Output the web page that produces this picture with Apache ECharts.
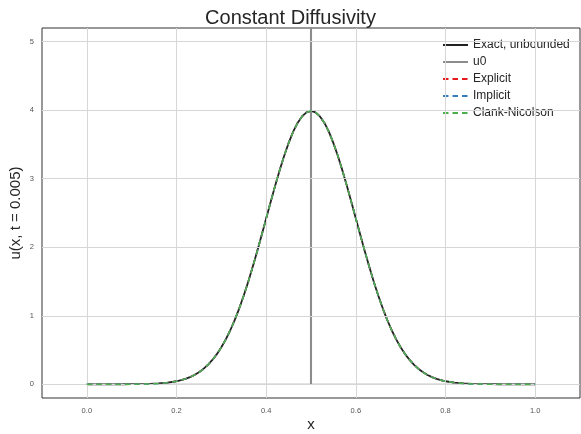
<!DOCTYPE html>
<html>
<head>
<meta charset="utf-8">
<script src="https://cdn.jsdelivr.net/npm/echarts@6/dist/echarts.min.js"></script>
<style>html,body{margin:0;padding:0;background:#fff}#c{width:581px;height:434px}</style>
</head>
<body>
<div id="c"></div>
<script>
// x grid of the solution
var xs = [0.00,0.02,0.04,0.06,0.08,0.10,0.12,0.14,0.16,0.18,
  0.20,0.21,0.22,0.23,0.24,0.25,0.26,0.27,0.28,0.29,
  0.30,0.31,0.32,0.33,0.34,0.35,0.36,0.37,0.38,0.39,
  0.40,0.41,0.42,0.43,0.44,0.45,0.46,0.47,0.48,0.49,
  0.50,0.51,0.52,0.53,0.54,0.55,0.56,0.57,0.58,0.59,
  0.60,0.61,0.62,0.63,0.64,0.65,0.66,0.67,0.68,0.69,
  0.70,0.71,0.72,0.73,0.74,0.75,0.76,0.77,0.78,0.79,
  0.80,0.82,0.84,0.86,0.88,0.90,0.92,0.94,0.96,0.98,1.00];
// exact solution, unbounded domain
var exact = [0.0000,0.0000,0.0001,0.0003,0.0006,0.0013,0.0029,0.0061,0.0123,0.0238,
  0.0443,0.0595,0.0792,0.104,0.136,0.175,0.224,0.283,0.355,0.440,
  0.540,0.656,0.789,0.940,1.109,1.295,1.497,1.714,1.942,2.178,
  2.420,2.661,2.897,3.122,3.332,3.520,3.683,3.814,3.910,3.969,
  3.989,3.969,3.910,3.814,3.683,3.520,3.332,3.122,2.897,2.661,
  2.420,2.178,1.942,1.714,1.497,1.295,1.109,0.940,0.789,0.656,
  0.540,0.440,0.355,0.283,0.224,0.175,0.136,0.104,0.0792,0.0595,
  0.0443,0.0238,0.0123,0.0061,0.0029,0.0013,0.0006,0.0003,0.0001,0.0000,0.0000];
// initial condition: discrete delta at x = 0.5 on a fine grid
var x0 = [0.0, 0.499, 0.5, 0.501, 1.0];
var u0 = [0, 0, 1000, 0, 0];
// numerical solutions (indistinguishable from exact at this scale)
var explicitU = [0.0000,0.0000,0.0001,0.0003,0.0006,0.0013,0.0029,0.0061,0.0123,0.0238,
  0.0443,0.0595,0.0792,0.104,0.136,0.175,0.224,0.283,0.355,0.440,
  0.540,0.656,0.789,0.940,1.109,1.295,1.497,1.714,1.942,2.178,
  2.420,2.661,2.897,3.122,3.332,3.520,3.683,3.814,3.910,3.969,
  3.989,3.969,3.910,3.814,3.683,3.520,3.332,3.122,2.897,2.661,
  2.420,2.178,1.942,1.714,1.497,1.295,1.109,0.940,0.789,0.656,
  0.540,0.440,0.355,0.283,0.224,0.175,0.136,0.104,0.0792,0.0595,
  0.0443,0.0238,0.0123,0.0061,0.0029,0.0013,0.0006,0.0003,0.0001,0.0000,0.0000];
var implicitU = explicitU.slice();
var crankU = explicitU.slice();

var xTicks = [0.0,0.2,0.4,0.6,0.8,1.0];
var xTickLabels = ['0.0','0.2','0.4','0.6','0.8','1.0'];
var yTicks = [0,1,2,3,4,5];
var yTickLabels = ['0','1','2','3','4','5'];

function pairs(x, y){ var r=[]; for(var i=0;i<x.length;i++) r.push([x[i], y[i]]); return r; }

var FONT = '"Liberation Sans", Arial, sans-serif';
var chart = echarts.init(document.getElementById('c'), null, {renderer:'canvas'});

function gridLines(){
  var d = [];
  xTicks.forEach(function(v){ d.push({xAxis:v}); });
  yTicks.forEach(function(v){ d.push({yAxis:v}); });
  return d;
}

var dashed = [5.5, 4];
chart.setOption({
  animation:false,
  backgroundColor:'#ffffff',
  title:{text:'Constant Diffusivity', left:'center', top:8, padding:0,
    textStyle:{fontFamily:FONT, fontSize:20, fontWeight:'normal', color:'#262626'}},
  grid:{left:42, right:1, top:28, bottom:36, show:true, borderColor:'#333', borderWidth:1,
    backgroundColor:'transparent', containLabel:false, outerBoundsMode:'none'},
  legend:{orient:'vertical', left:437, top:34, itemWidth:25, itemHeight:12, itemGap:5,
    itemStyle:{opacity:0},
    textStyle:{fontFamily:FONT, fontSize:12, color:'#262626', padding:[0,0,0,0]},
    data:['Exact, unbounded','u0','Explicit','Implicit','Clank-Nicolson']},
  xAxis:[{type:'value', min:-0.1, max:1.1, position:'bottom',
      name:'x', nameLocation:'middle', nameGap:19, nameMoveOverlap:false,
      nameTextStyle:{fontFamily:FONT, fontSize:15, color:'#262626'},
      axisLine:{show:false},
      axisTick:{show:true, customValues:xTicks, length:4, lineStyle:{color:'#333'}},
      axisLabel:{customValues:xTicks, fontFamily:FONT, fontSize:7.5, color:'#555', margin:9,
        formatter:function(v){ var i=xTicks.indexOf(v); return i>=0?xTickLabels[i]:v.toFixed(1); }},
      splitLine:{show:false}},
    {type:'value', min:-0.1, max:1.1, position:'top',
      axisLine:{show:false},
      axisTick:{show:true, customValues:xTicks, length:4, lineStyle:{color:'#333'}},
      axisLabel:{show:false, customValues:xTicks}, splitLine:{show:false}}],
  yAxis:[{type:'value', min:-0.2, max:5.2, position:'left',
      name:'u(x, t = 0.005)', nameLocation:'middle', nameGap:19, nameRotate:90, nameMoveOverlap:false,
      nameTextStyle:{fontFamily:FONT, fontSize:15, color:'#262626'},
      axisLine:{show:false},
      axisTick:{show:true, customValues:yTicks, length:4, lineStyle:{color:'#333'}},
      axisLabel:{customValues:yTicks, fontFamily:FONT, fontSize:7.5, color:'#555', margin:8,
        formatter:function(v){ var i=yTicks.indexOf(v); return i>=0?yTickLabels[i]:String(v); }},
      splitLine:{show:false}},
    {type:'value', min:-0.2, max:5.2, position:'right',
      axisLine:{show:false},
      axisTick:{show:true, customValues:yTicks, length:4, lineStyle:{color:'#333'}},
      axisLabel:{show:false, customValues:yTicks}, splitLine:{show:false}}],
  series:[
    {name:'grid', type:'line', data:[], silent:true, z:0,
      markLine:{silent:true, symbol:'none', label:{show:false}, animation:false,
        lineStyle:{color:'#d6d6d6', width:1, type:'solid'}, data:gridLines()}},
    {name:'Exact, unbounded', type:'line', data:pairs(xs, exact), showSymbol:false, symbol:'none',
      lineStyle:{color:'#222222', width:1.8}, itemStyle:{color:'#222222'}, z:2},
    {name:'u0', type:'line', data:pairs(x0, u0), showSymbol:false, symbol:'none',
      lineStyle:{color:'#8c8c8c', width:1.2}, itemStyle:{color:'#a0a0a0'}, z:3},
    {name:'Explicit', type:'line', data:pairs(xs, explicitU), showSymbol:false, symbol:'none',
      lineStyle:{color:'#e41a1c', width:1.5, type:dashed}, itemStyle:{color:'#e41a1c'}, z:4},
    {name:'Implicit', type:'line', data:pairs(xs, implicitU), showSymbol:false, symbol:'none',
      lineStyle:{color:'#377eb8', width:1.5, type:dashed}, itemStyle:{color:'#377eb8'}, z:5},
    {name:'Clank-Nicolson', type:'line', data:pairs(xs, crankU), showSymbol:false, symbol:'none',
      lineStyle:{color:'#4daf4a', width:1.5, type:dashed}, itemStyle:{color:'#4daf4a'}, z:6}
  ]
});
</script>
</body>
</html>
